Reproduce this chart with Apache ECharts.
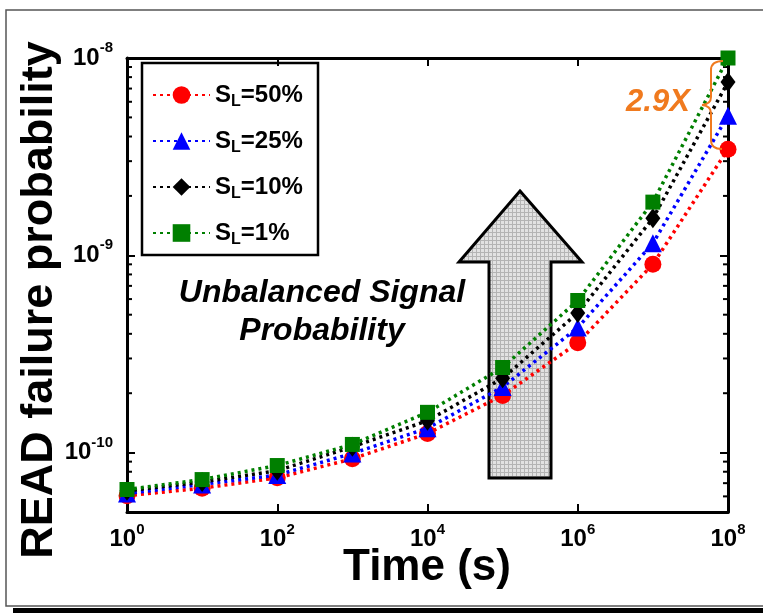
<!DOCTYPE html>
<html>
<head>
<meta charset="utf-8">
<script src="https://cdn.jsdelivr.net/npm/echarts@6/dist/echarts.min.js"></script>
<style>
  html, body { margin: 0; padding: 0; background: #fff; }
  #chart { width: 763px; height: 613px; }
</style>
</head>
<body>
<div id="chart"></div>
<script>
// time points (s) and READ failure probability per signal level
var times = [1, 1e1, 1e2, 1e3, 1e4, 1e5, 1e6, 1e7, 1e8];
var levels = ['50%', '25%', '10%', '1%'];
var sl50 = [6.05e-11, 6.6e-11, 7.45e-11, 9.3e-11, 1.25e-10, 1.95e-10, 3.6e-10, 9.0e-10, 3.45e-9];
var sl25 = [6.2e-11, 6.9e-11, 7.7e-11, 9.9e-11, 1.33e-10, 2.15e-10, 4.3e-10, 1.15e-9, 5.1e-9];
var sl10 = [6.4e-11, 7.1e-11, 8.1e-11, 1.07e-10, 1.45e-10, 2.38e-10, 5.1e-10, 1.54e-9, 7.55e-9];
var sl1 = [6.5e-11, 7.3e-11, 8.6e-11, 1.1e-10, 1.6e-10, 2.7e-10, 5.9e-10, 1.86e-9, 1.0e-8];
var yMinorTicks = [6e-11, 7e-11, 8e-11, 9e-11, 2e-10, 3e-10, 4e-10, 5e-10, 6e-10, 7e-10, 8e-10, 9e-10,
                   2e-9, 3e-9, 4e-9, 5e-9, 6e-9, 7e-9, 8e-9, 9e-9];

var colors = ['#ff0000', '#0000ff', '#000000', '#007f00'];
var symbols = ['circle', 'triangle', 'diamond', 'rect'];
var symbolSizes = [17, 18, [15, 20], 15];
var allData = [sl50, sl25, sl10, sl1];

var FONT = 'Liberation Sans, Arial, sans-serif';
var ORANGE = '#f07a1e';

function pow10Label(v) {
    var e = Math.round(Math.log(v) / Math.LN10);
    if (Math.abs(Math.log(v) / Math.LN10 - e) > 1e-6) return '';
    return '{b|10}{s|' + e + '}';
}
var tickRich = {
    b: { fontSize: 24, fontWeight: 'bold', fontFamily: FONT, color: '#000' },
    s: { fontSize: 15, fontWeight: 'bold', fontFamily: FONT, color: '#000', padding: [0, 0, 20, 0] }
};

// hatch pattern for the big arrow
var pat = document.createElement('canvas');
pat.width = 4; pat.height = 4;
var pc = pat.getContext('2d');
pc.fillStyle = '#e2e2e2'; pc.fillRect(0, 0, 4, 4);
pc.fillStyle = '#b4b4b4'; pc.fillRect(0, 0, 4, 1); pc.fillRect(0, 0, 1, 4);

var series = levels.map(function (lv, i) {
    return {
        name: 'S_L=' + lv,
        type: 'line',
        data: times.map(function (t, k) { return [t, allData[i][k]]; }),
        symbol: symbols[i],
        symbolSize: symbolSizes[i],
        clip: false,
        z: 3 + i,
        itemStyle: { color: colors[i] },
        lineStyle: { color: colors[i], width: 3.5, type: [3, 4] }
    };
});

series.push({
    type: 'custom',
    silent: true,
    z: 2,
    data: yMinorTicks.map(function (v) { return [1, v]; }),
    renderItem: function (params, api) {
        var p = api.coord([1, api.value(1)]);
        var cs = params.coordSys;
        return {
            type: 'group',
            children: [
                { type: 'line', shape: { x1: cs.x, y1: p[1], x2: cs.x + 5, y2: p[1] }, style: { stroke: '#000', lineWidth: 2 } },
                { type: 'line', shape: { x1: cs.x + cs.width - 5, y1: p[1], x2: cs.x + cs.width, y2: p[1] }, style: { stroke: '#000', lineWidth: 2 } }
            ]
        };
    }
});

var axisCommon = {
    axisLine: { show: true, onZero: false, lineStyle: { color: '#000', width: 3 } },
    axisTick: { show: true, inside: true, length: 8, lineStyle: { color: '#000', width: 2 } },
    splitLine: { show: false }
};

function bracketPiece(type, shape) {
    return { type: type, z: 10, silent: true, shape: shape, style: { fill: 'none', stroke: ORANGE, lineWidth: 2 } };
}

var option = {
    animation: false,
    backgroundColor: '#fff',
    grid: { left: 127, right: 35, top: 58, bottom: 101 },
    legend: {
        orient: 'vertical',
        left: 147,
        top: 78,
        itemWidth: 57,
        itemHeight: 22,
        itemGap: 19,
        data: levels.map(function (lv) { return 'S_L=' + lv; }),
        formatter: function (name) {
            return '{m|S}{sub|L}{m|' + name.slice(3) + '}';
        },
        textStyle: {
            rich: {
                m: { fontSize: 24, fontWeight: 'bold', fontFamily: FONT, color: '#000' },
                sub: { fontSize: 16, fontWeight: 'bold', fontFamily: FONT, color: '#000', padding: [14, 0, 0, 0] }
            }
        }
    },
    xAxis: [
        Object.assign({
            type: 'log', logBase: 10, min: 1, max: 1e8, interval: 2, position: 'bottom',
            axisLabel: { margin: 10, formatter: pow10Label, rich: tickRich }
        }, axisCommon),
        Object.assign({
            type: 'log', logBase: 10, min: 1, max: 1e8, interval: 2, position: 'top',
            axisLabel: { show: false }
        }, axisCommon)
    ],
    yAxis: [
        Object.assign({
            type: 'log', logBase: 10, min: 5e-11, max: 1e-8, position: 'left',
            axisLabel: { margin: 14, formatter: pow10Label, rich: tickRich }
        }, axisCommon),
        Object.assign({
            type: 'log', logBase: 10, min: 5e-11, max: 1e-8, position: 'right',
            axisLabel: { show: false }
        }, axisCommon)
    ],
    graphic: [
        // outer frame
        { type: 'rect', shape: { x: 6, y: 10, width: 770, height: 596 }, style: { fill: 'none', stroke: '#555', lineWidth: 1.5 }, z: 0, silent: true },
        { type: 'rect', shape: { x: 13, y: 608, width: 760, height: 6 }, style: { fill: '#000' }, z: 0, silent: true },
        // legend box
        { type: 'rect', shape: { x: 142, y: 63, width: 176, height: 192 }, style: { fill: 'none', stroke: '#000', lineWidth: 2.5 }, z: 10, silent: true },
        // big up arrow
        {
            type: 'polygon', z: 1, silent: true,
            shape: { points: [[520, 191], [582, 262], [551, 262], [551, 478], [489, 478], [489, 262], [459, 262]] },
            style: { fill: { image: pat, repeat: 'repeat' }, stroke: '#000', lineWidth: 3 }
        },
        {
            type: 'text', z: 10, silent: true, x: 322, y: 293,
            style: { text: 'Unbalanced Signal', font: 'italic bold 32px ' + FONT, fill: '#000', align: 'center', verticalAlign: 'middle' }
        },
        {
            type: 'text', z: 10, silent: true, x: 322, y: 331,
            style: { text: 'Probability', font: 'italic bold 32px ' + FONT, fill: '#000', align: 'center', verticalAlign: 'middle' }
        },
        // axis titles
        {
            type: 'text', z: 10, silent: true, x: 40, y: 300, rotation: Math.PI / 2,
            style: { text: 'READ failure probability', font: 'bold 45px ' + FONT, fill: '#000', align: 'center', verticalAlign: 'middle' }
        },
        {
            type: 'text', z: 10, silent: true, x: 427, y: 568,
            style: { text: 'Time (s)', font: 'bold 44px ' + FONT, fill: '#000', align: 'center', verticalAlign: 'middle' }
        },
        // 2.9X bracket
        bracketPiece('bezierCurve', { x1: 723, y1: 61, cpx1: 711, cpy1: 61, x2: 711, y2: 70 }),
        bracketPiece('line', { x1: 711, y1: 70, x2: 711, y2: 97 }),
        bracketPiece('bezierCurve', { x1: 711, y1: 97, cpx1: 711, cpy1: 104, x2: 702, y2: 105 }),
        bracketPiece('bezierCurve', { x1: 702, y1: 105, cpx1: 711, cpy1: 106, x2: 711, y2: 113 }),
        bracketPiece('line', { x1: 711, y1: 113, x2: 711, y2: 140 }),
        bracketPiece('bezierCurve', { x1: 711, y1: 140, cpx1: 711, cpy1: 149, x2: 722, y2: 149 }),
        {
            type: 'text', z: 10, silent: true, x: 658, y: 102,
            style: { text: '2.9X', font: 'italic bold 31px ' + FONT, fill: ORANGE, align: 'center', verticalAlign: 'middle' }
        }
    ],
    series: series
};

var chart = echarts.init(document.getElementById('chart'));
chart.setOption(option);
</script>
</body>
</html>
